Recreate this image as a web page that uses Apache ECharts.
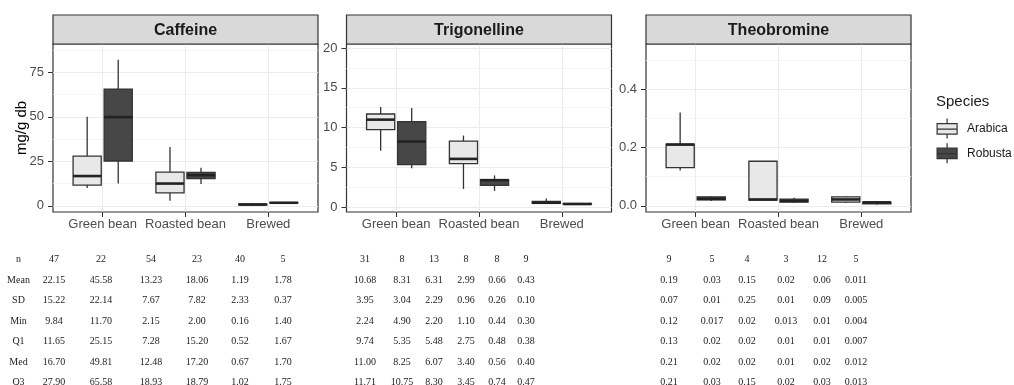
<!DOCTYPE html>
<html>
<head>
<meta charset="utf-8">
<script src="https://cdn.jsdelivr.net/npm/echarts@6/dist/echarts.min.js"></script>
<style>
  html, body { margin: 0; padding: 0; background: #fff; }
  #chart { width: 1014px; height: 385px; }
</style>
</head>
<body>
<div id="chart"></div>
<script>
// x categories / groups
const stages = ['Green bean', 'Roasted bean', 'Brewed'];
const species = ['Arabica', 'Robusta'];
const compounds = ['Caffeine', 'Trigonelline', 'Theobromine'];

// boxes: [lower whisker, Q1, median, Q3, upper whisker], mg/g db
const caffeineArabica = [[10.0, 11.65, 16.70, 27.90, 50.0], [2.8, 7.28, 12.48, 18.93, 33.0], [0.16, 0.52, 0.67, 1.02, 1.6]];
const caffeineRobusta = [[12.5, 25.15, 49.81, 65.58, 82.0], [12.2, 15.20, 17.20, 18.79, 21.4], [1.40, 1.67, 1.70, 1.75, 2.0]];
const trigonellineArabica = [[7.1, 9.74, 11.00, 11.71, 12.6], [2.3, 5.48, 6.07, 8.30, 9.0], [0.44, 0.48, 0.56, 0.74, 1.1]];
const trigonellineRobusta = [[4.9, 5.35, 8.25, 10.75, 12.45], [2.05, 2.75, 3.40, 3.45, 4.0], [0.30, 0.38, 0.40, 0.47, 0.52]];
const theobromineArabica = [[0.121, 0.131, 0.210, 0.212, 0.32], [0.020, 0.020, 0.022, 0.153, 0.153], [0.010, 0.013, 0.022, 0.031, 0.034]];
const theobromineRobusta = [[0.017, 0.021, 0.024, 0.031, 0.033], [0.011, 0.013, 0.017, 0.023, 0.028], [0.004, 0.007, 0.012, 0.013, 0.017]];

// y tick labels per panel
const caffeineTicks = [0, 25, 50, 75];
const trigonellineTicks = [0, 5, 10, 15, 20];
const theobromineTicks = [0, 0.2, 0.4];

// summary table under the plots (columns: Arabica/Robusta for green, roasted, brewed)
const statNames = ['n', 'Mean', 'SD', 'Min', 'Q1', 'Med', 'Q3'];
const caffeineTable = [
  ['47', '22', '54', '23', '40', '5'],
  ['22.15', '45.58', '13.23', '18.06', '1.19', '1.78'],
  ['15.22', '22.14', '7.67', '7.82', '2.33', '0.37'],
  ['9.84', '11.70', '2.15', '2.00', '0.16', '1.40'],
  ['11.65', '25.15', '7.28', '15.20', '0.52', '1.67'],
  ['16.70', '49.81', '12.48', '17.20', '0.67', '1.70'],
  ['27.90', '65.58', '18.93', '18.79', '1.02', '1.75']
];
const trigonellineTable = [
  ['31', '8', '13', '8', '8', '9'],
  ['10.68', '8.31', '6.31', '2.99', '0.66', '0.43'],
  ['3.95', '3.04', '2.29', '0.96', '0.26', '0.10'],
  ['2.24', '4.90', '2.20', '1.10', '0.44', '0.30'],
  ['9.74', '5.35', '5.48', '2.75', '0.48', '0.38'],
  ['11.00', '8.25', '6.07', '3.40', '0.56', '0.40'],
  ['11.71', '10.75', '8.30', '3.45', '0.74', '0.47']
];
const theobromineTable = [
  ['9', '5', '4', '3', '12', '5'],
  ['0.19', '0.03', '0.15', '0.02', '0.06', '0.011'],
  ['0.07', '0.01', '0.25', '0.01', '0.09', '0.005'],
  ['0.12', '0.017', '0.02', '0.013', '0.01', '0.004'],
  ['0.13', '0.02', '0.02', '0.01', '0.01', '0.007'],
  ['0.21', '0.02', '0.02', '0.01', '0.02', '0.012'],
  ['0.21', '0.03', '0.15', '0.02', '0.03', '0.013']
];

// layout
const panelLeft = [53, 346.5, 646];
const panelWidth = 265;
const plotTop = 44, plotHeight = 168;
const stripTop = 15, stripHeight = 29;
const yRanges = [[-3.5, 90.9], [-0.6, 20.5], [-0.021, 0.555]];
const tableCols = [
  [54, 101, 151, 197, 240, 283],
  [365, 402, 434, 466, 497, 526],
  [669, 712, 747, 786, 822, 856]
];
const tableRowY = 259.5, tableRowStep = 20.55;

const fills = ['#e8e8e8', '#474747'];
const edge = '#333333';
const BOX_W = 0.34;      // box width in x units
const DODGE = 0.1875;    // species offset from the stage centre

const chart = echarts.init(document.getElementById('chart'));

function makeBox(fill) {
  return function (params, api) {
    const x = api.value(0);
    const p = [1, 2, 3, 4, 5].map(d => api.coord([x, api.value(d)]));
    const half = api.size([BOX_W, 0])[0] / 2;
    const cx = p[0][0];
    const whisker = (y1, y2) => ({
      type: 'line',
      shape: { x1: cx, y1: y1, x2: cx, y2: y2 },
      style: { stroke: edge, lineWidth: 1.3 }
    });
    return {
      type: 'group',
      children: [
        whisker(p[4][1], p[3][1]),
        whisker(p[1][1], p[0][1]),
        {
          type: 'rect',
          shape: { x: cx - half, y: p[3][1], width: half * 2, height: p[1][1] - p[3][1] },
          style: { fill: fill, stroke: edge, lineWidth: 1.3 }
        },
        {
          type: 'line',
          shape: { x1: cx - half, y1: p[2][1], x2: cx + half, y2: p[2][1] },
          style: { stroke: '#222', lineWidth: 2.6 }
        }
      ]
    };
  };
}

const boxData = [
  [caffeineArabica, caffeineRobusta],
  [trigonellineArabica, trigonellineRobusta],
  [theobromineArabica, theobromineRobusta]
];
const tickSets = [caffeineTicks, trigonellineTicks, theobromineTicks];
const tables = [caffeineTable, trigonellineTable, theobromineTable];

const grid = [], xAxis = [], yAxis = [], series = [], graphic = [];

boxData.forEach((pair, g) => {
  grid.push({
    left: panelLeft[g], top: plotTop, width: panelWidth, height: plotHeight,
    show: true, borderColor: edge, borderWidth: 1.2, backgroundColor: '#fff',
    outerBoundsMode: 'none'
  });

  xAxis.push({
    gridIndex: g, type: 'value', min: 0.4, max: 3.6,
    axisLine: { show: false, onZero: false },
    axisTick: { show: true, length: 5, customValues: [1, 2, 3], lineStyle: { color: edge } },
    axisLabel: {
      customValues: [1, 2, 3], margin: 6, color: '#4d4d4d', fontSize: 13,
      formatter: v => stages[Math.round(v) - 1]
    },
    splitLine: { show: true, lineStyle: { color: '#ebebeb', width: 1 } }
  });

  const ticks = tickSets[g];
  const step = ticks[1] - ticks[0];
  const minor = ticks.map(t => t + step / 2).filter(v => v < yRanges[g][1]);
  yAxis.push({
    gridIndex: g, type: 'value', min: yRanges[g][0], max: yRanges[g][1],
    name: g === 0 ? 'mg/g db' : '',
    nameLocation: 'middle', nameGap: 24, nameMoveOverlap: false,
    nameTextStyle: { fontSize: 15, color: '#000' },
    axisLine: { show: false, onZero: false },
    axisTick: { show: true, length: 5, customValues: ticks, lineStyle: { color: edge } },
    axisLabel: {
      customValues: ticks, margin: 9, color: '#4d4d4d', fontSize: 13,
      formatter: v => (g === 2 ? v.toFixed(1) : String(v))
    },
    splitLine: { show: true, lineStyle: { color: '#ebebeb', width: 1 } }
  });
  // minor grid lines
  yAxis.push({
    gridIndex: g, type: 'value', min: yRanges[g][0], max: yRanges[g][1], position: 'left',
    axisLine: { show: false, onZero: false },
    axisTick: { show: false, customValues: minor },
    axisLabel: { show: false, customValues: minor },
    splitLine: { show: true, lineStyle: { color: '#f3f3f3', width: 0.8 } }
  });

  pair.forEach((boxes, s) => {
    series.push({
      type: 'custom',
      name: species[s],
      xAxisIndex: g,
      yAxisIndex: g * 2,
      silent: true,
      clip: true,
      itemStyle: { color: fills[s], borderColor: edge, borderWidth: 1.3 },
      encode: { x: 0, y: [1, 2, 3, 4, 5] },
      renderItem: makeBox(fills[s]),
      data: boxes.map((b, i) => [i + 1 + (s === 0 ? -DODGE : DODGE)].concat(b))
    });
  });

  // facet strip
  graphic.push({
    type: 'rect', z: 10,
    shape: { x: panelLeft[g], y: stripTop, width: panelWidth, height: stripHeight },
    style: { fill: '#d9d9d9', stroke: edge, lineWidth: 1.2 }
  });
  graphic.push({
    type: 'text', z: 11,
    x: panelLeft[g] + panelWidth / 2, y: stripTop + stripHeight / 2 + 1,
    style: {
      text: compounds[g], fill: '#1a1a1a', align: 'center', verticalAlign: 'middle',
      font: 'bold 16px "Liberation Sans", Arial, sans-serif'
    }
  });

  // table values
  tables[g].forEach((row, r) => {
    row.forEach((val, c) => {
      graphic.push({
        type: 'text',
        x: tableCols[g][c], y: tableRowY + r * tableRowStep,
        style: {
          text: val, fill: '#222', align: 'center', verticalAlign: 'middle',
          font: '10px "Liberation Serif", serif'
        }
      });
    });
  });
});

statNames.forEach((name, r) => {
  graphic.push({
    type: 'text',
    x: 18.5, y: tableRowY + r * tableRowStep,
    style: {
      text: name, fill: '#222', align: 'center', verticalAlign: 'middle',
      font: '10px "Liberation Serif", serif'
    }
  });
});

graphic.push({
  type: 'text',
  x: 936, y: 101.5,
  style: {
    text: 'Species', fill: '#1a1a1a', align: 'left', verticalAlign: 'middle',
    font: '15px "Liberation Sans", Arial, sans-serif'
  }
});

chart.setOption({
  animation: false,
  backgroundColor: '#fff',
  textStyle: { fontFamily: '"Liberation Sans", Arial, sans-serif' },
  grid: grid,
  xAxis: xAxis,
  yAxis: yAxis,
  legend: {
    data: species,
    orient: 'vertical',
    left: 936.5,
    top: 118,
    padding: 0,
    itemWidth: 20,
    itemHeight: 20,
    itemGap: 3.4,
    selectedMode: false,
    icon: 'path://M10,0L10,5M0,5L20,5L20,15.5L0,15.5ZM0,10.5L20,10.5M10,15.5L10,20',
    itemStyle: { borderColor: edge, borderWidth: 1.2 },
    textStyle: { fontSize: 12, color: '#1a1a1a', padding: [0, 0, 0, 5] }
  },
  graphic: graphic,
  series: series
});
</script>
</body>
</html>
